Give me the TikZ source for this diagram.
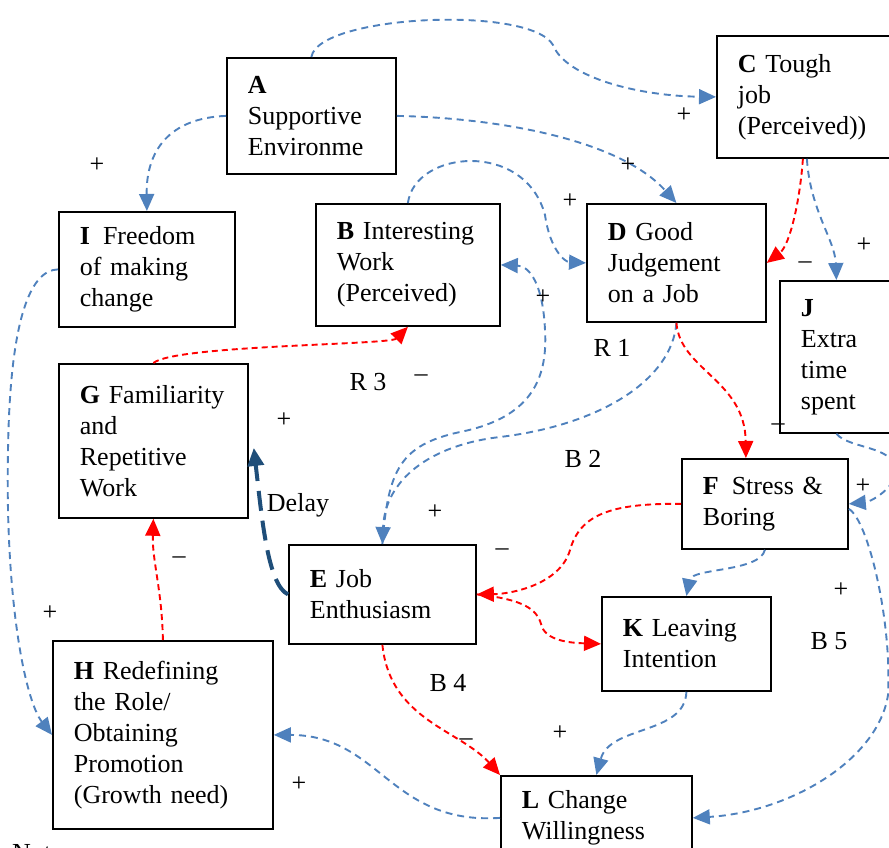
\documentclass[tikz,border=0pt]{standalone}
\usepackage{fontspec}
\setmainfont{Liberation Serif}
\usetikzlibrary{arrows.meta}
\definecolor{linkblue}{HTML}{4F81BD}
\definecolor{delayblue}{HTML}{1F4E79}
\begin{document}
\begin{tikzpicture}[x=1pt,y=-1pt,
    every node/.style={font=\fontsize{26}{31}\selectfont, inner sep=0pt},
    box/.style={draw, line width=1.8pt, anchor=north west, align=left, inner xsep=21pt},
    bl/.style={draw=linkblue, line width=1.9pt, dash pattern=on 7pt off 5pt, -{Triangle[length=17pt,width=15pt]}},
    rd/.style={draw=red, line width=1.9pt, dash pattern=on 6pt off 4pt, -{Triangle[length=17pt,width=15pt]}},
    dly/.style={draw=delayblue, line width=4pt, dash pattern=on 20pt off 10pt, -{Triangle[length=18pt,width=16pt]}}]
\clip (0,0) rectangle (889,848);

% boxes
\node[box, text width=127pt, minimum width=169pt, minimum height=116pt] (A) at (226,57) {\textbf{A}\\Supportive\\Environme};
\node[box, text width=142pt, minimum width=184pt, minimum height=122pt] (B) at (315,203) {\textbf{B} Interesting\\Work\\(Perceived)};
\node[box, text width=134pt, minimum width=176pt, minimum height=122pt] (C) at (716,35) {\textbf{C} Tough\\job\\(Perceived))};
\node[box, text width=137pt, minimum width=179pt, minimum height=118pt] (D) at (586,203) {\textbf{D} Good\\Judgement\\on a Job};
\node[box, text width=145pt, minimum width=187pt, minimum height=99pt] (E) at (288,544) {\textbf{E} Job\\Enthusiasm};
\node[box, text width=124pt, minimum width=166pt, minimum height=90pt] (F) at (681,458) {\textbf{F}\enspace Stress~\&\\Boring};
\node[box, text width=147pt, minimum width=189pt, minimum height=154pt] (G) at (58,363) {\textbf{G} Familiarity\\and\\Repetitive\\Work};
\node[box, text width=178pt, minimum width=220pt, minimum height=188pt] (H) at (52,640) {\textbf{H} Redefining\\the Role/\\Obtaining\\Promotion\\(Growth need)};
\node[box, text width=134pt, minimum width=176pt, minimum height=115pt] (I) at (58,211) {\textbf{I}\enspace Freedom\\of making\\change};
\node[box, text width=71pt, minimum width=113pt, minimum height=152pt] (J) at (779,280) {\textbf{J}\\Extra\\time\\spent};
\node[box, text width=127pt, minimum width=169pt, minimum height=94pt] (K) at (601,596) {\textbf{K} Leaving\\Intention};
\node[box, text width=149pt, minimum width=191pt, minimum height=84pt] (L) at (500,775) {\textbf{L} Change\\Willingness};

% links
\draw[bl] (A.north) .. controls (318,15) and (530,5) .. (553,45) .. controls (566,78) and (640,96) .. (C.west);
\draw[bl] (A.east) .. controls (500,118) and (620,140) .. (D.north);
\draw[bl] (A.west) .. controls (170,118) and (146,150) .. (I.north);
\draw[bl] (B.north) .. controls (415,150) and (525,140) .. (545,215) .. controls (550,250) and (565,262) .. (D.west);
\draw[bl] (D.south) .. controls (672,380) and (600,425) .. (500,437) .. controls (430,445) and (385,480) .. (E.north);
\draw[bl] (E.north) .. controls (388,470) and (400,445) .. (460,432) .. controls (530,418) and (548,380) .. (545,330) .. controls (543,285) and (530,266) .. (B.east);
\draw[rd] ([xshift=-2pt]C.south) .. controls (800,200) and (790,245) .. (D.east);
\draw[bl] ([xshift=2pt]C.south) .. controls (810,210) and (835,240) .. (J.north);
\draw[rd] (D.south) .. controls (680,370) and (745,380) .. ([xshift=-19pt]F.north);
\draw[bl] (J.south) .. controls (850,450) and (900,445) .. (895,475) .. controls (892,490) and (870,502) .. (F.east);
\draw[bl] ([yshift=-5pt]F.east) .. controls (868,520) and (892,620) .. (888,695) .. controls (878,760) and (790,812) .. (L.east);
\draw[rd] (F.west) .. controls (610,503) and (580,515) .. (570,550) .. controls (560,585) and (510,594) .. (E.east);
\draw[rd] (E.east) .. controls (530,600) and (538,612) .. (542,627) .. controls (548,642) and (575,643) .. (K.west);
\draw[bl] (F.south) .. controls (760,572) and (692,568) .. (K.north);
\draw[bl] (K.south) .. controls (685,735) and (610,725) .. (L.north);
\draw[rd] (E.south) .. controls (390,720) and (460,730) .. (L.north west);
\draw[bl] (L.west) .. controls (390,825) and (380,735) .. (H.east);
\draw[bl] (I.west) .. controls (30,270) and (10,320) .. (8,450) .. controls (5,600) and (25,700) .. (H.west);
\draw[rd] (H.north) .. controls (162,590) and (152,560) .. (G.south);
\draw[rd] (G.north) .. controls (175,345) and (390,345) .. (B.south);
\draw[dly] (E.west) .. controls (268,585) and (262,520) .. ([shift={(5,7)}]G.east);

% polarity and loop labels
\node (p1) at (684,115) {+};
\node (p2) at (628,165) {+};
\node (p3) at (97,165) {+};
\node (p4) at (570,201) {+};
\node (p5) at (864,245) {+};
\node (p6) at (543,297) {+};
\node (p7) at (284,420) {+};
\node (p8) at (435,512) {+};
\node (p9) at (863,486) {+};
\node (p10) at (841,590) {+};
\node (p11) at (560,733) {+};
\node (p12) at (50,613) {+};
\node (p13) at (299,784) {+};
\node (m1) at (805,265) {--};
\node (m2) at (421,378) {--};
\node (m3) at (502,552) {--};
\node (m4) at (179,560) {--};
\node (m5) at (466,742) {--};
\node (m6) at (778,427) {--};
\node (r1) at (612,348) {R 1};
\node (r3) at (368,382) {R 3};
\node (b2) at (583,459) {B 2};
\node (b4) at (448,683) {B 4};
\node (b5) at (829,641) {B 5};
\node (delay) at (298,505) {Delay};
\node[anchor=north west] (note) at (12,844) {Note:};
\end{tikzpicture}
\end{document}
